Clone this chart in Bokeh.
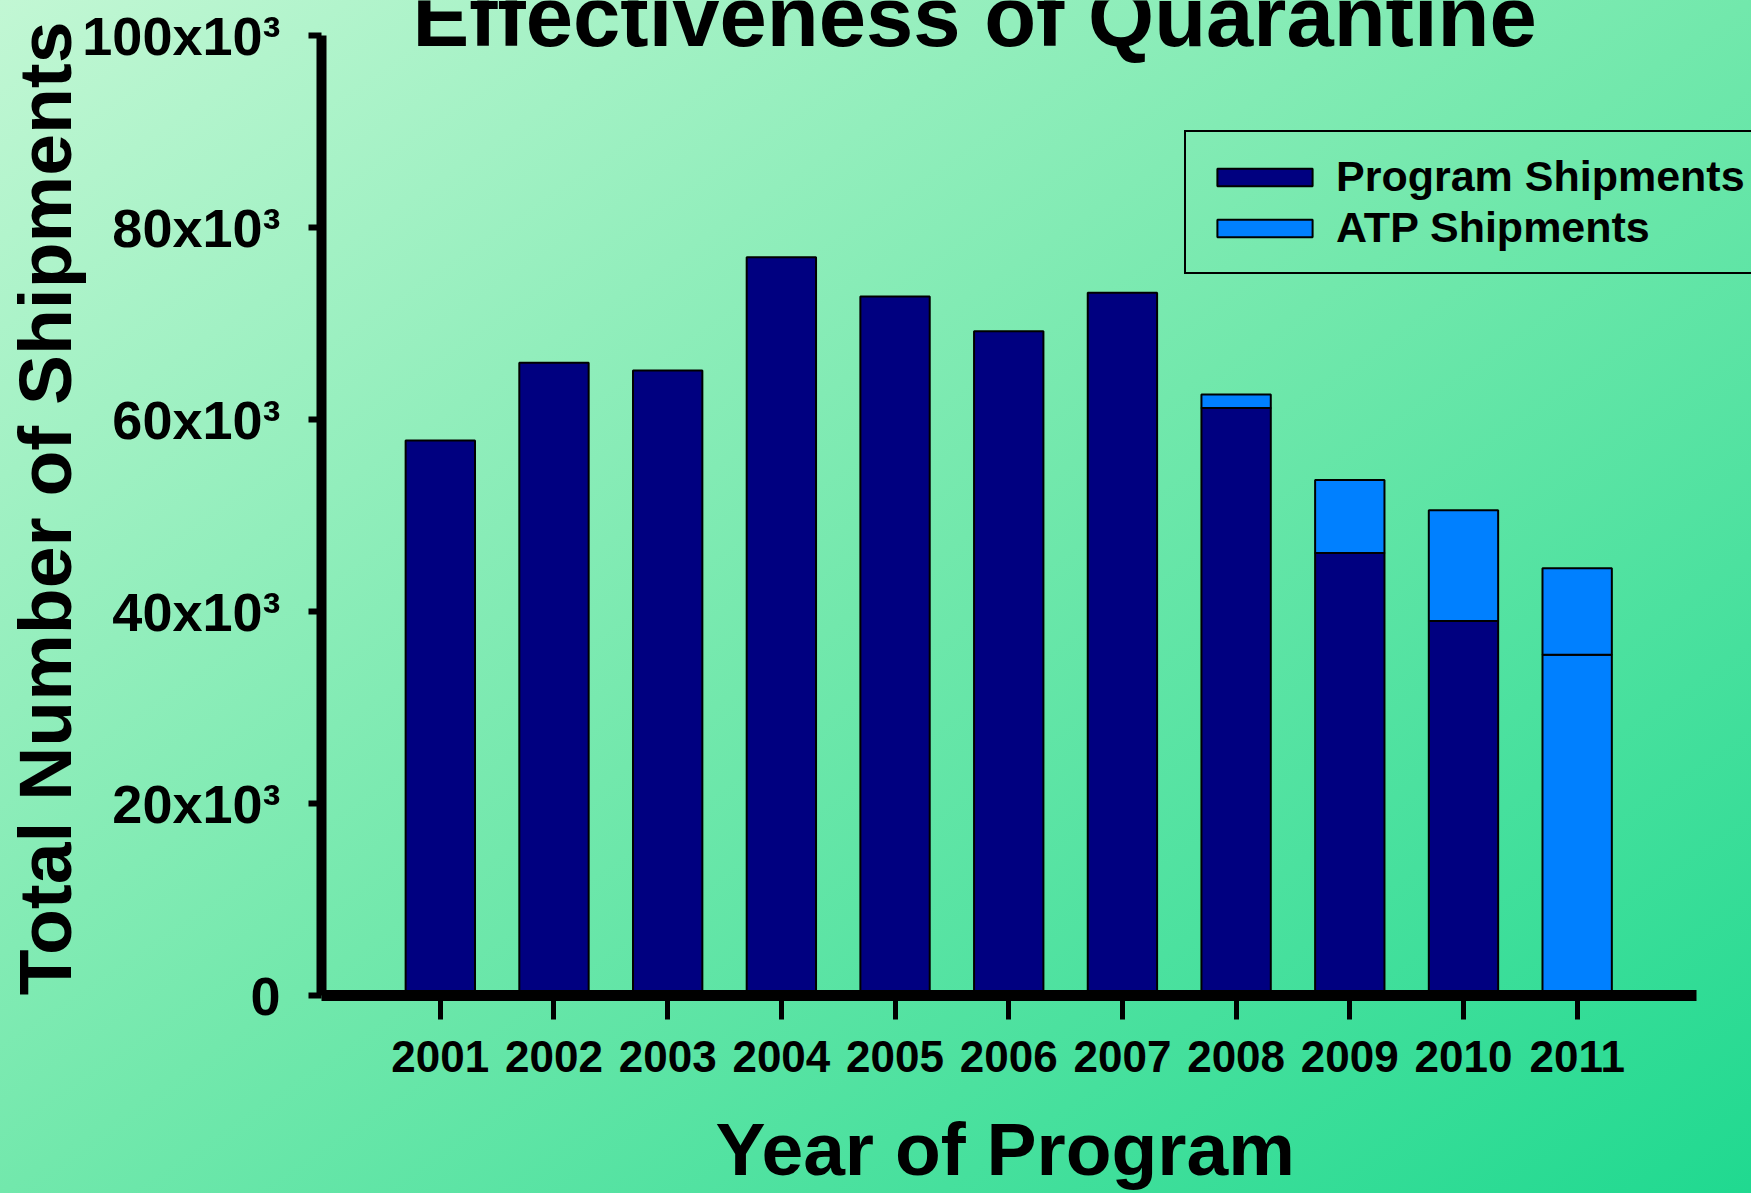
from bokeh.plotting import figure
from bokeh.models import (FixedTicker, Label, Legend, LegendItem,
                          ColumnDataSource, Range1d)
from bokeh.embed import file_html
from bokeh.resources import INLINE

# ---------------- data ----------------
years = [2001, 2002, 2003, 2004, 2005, 2006, 2007, 2008, 2009, 2010, 2011]
program = [57800, 65900, 65100, 76900, 72800, 69200, 73200, 61200, 46100, 39000, 35500]
atp = [0, 0, 0, 0, 0, 0, 0, 1400, 7600, 11550, 9000]
# years whose lower segment is drawn in the ATP colour in the original chart
lower_segment_as_atp = [2011]
y_ticks = [0, 20000, 40000, 60000, 80000, 100000]
y_tick_labels = ["0", "20x10³", "40x10³", "60x10³", "80x10³", "100x10³"]
x_tick_labels = ["2001", "2002", "2003", "2004", "2005", "2006", "2007",
                 "2008", "2009", "2010", "2011"]

NAVY = "#000080"
BLUE = "#0080ff"
FONT = "Liberation Sans"
NBSP = "\u00a0"

prog_colors = [BLUE if y in lower_segment_as_atp else NAVY for y in years]
src_prog = ColumnDataSource(dict(x=years, top=program, color=prog_colors))
atp_idx = [i for i, a in enumerate(atp) if a > 0]
src_atp = ColumnDataSource(dict(
    x=[years[i] for i in atp_idx],
    bottom=[program[i] for i in atp_idx],
    top=[program[i] + atp[i] for i in atp_idx]))

X0, X1 = 1999.955, 2012.05       # extent of the drawn x axis
Y0, Y1 = 0, 100000               # extent of the drawn y axis

p = figure(width=1751, height=1193, output_backend="svg", toolbar_location=None,
           x_range=Range1d(X0, X0 + (X1 - X0) * 1431 / 1376),
           y_range=Range1d(Y0, Y1 * 995 / 960),
           min_border_left=320, min_border_right=0, min_border_top=0,
           min_border_bottom=198)
p.styles = {"background": "linear-gradient(to bottom right, #c2f7d4 0%, #72e8ac 50%, #20d990 100%)"}
p.background_fill_alpha = 0
p.border_fill_alpha = 0
p.outline_line_color = None
p.grid.visible = False

r_prog = p.vbar(x="x", top="top", bottom=0, width=0.61, source=src_prog,
                fill_color="color", line_color="black", line_width=2)
r_atp = p.vbar(x="x", top="top", bottom="bottom", width=0.61, source=src_atp,
               fill_color=BLUE, line_color="black", line_width=2)

# axes
xa = p.xaxis[0]
xa.bounds = (X0, X1)
xa.ticker = FixedTicker(ticks=years)
xa.major_label_overrides = {y: l for y, l in zip(years, x_tick_labels)}
xa.axis_line_width = 11
xa.axis_line_color = "black"
xa.major_tick_in = 0
xa.major_tick_out = 24
xa.major_tick_line_width = 5
xa.minor_tick_line_color = None
xa.major_label_text_font = FONT
xa.major_label_text_font_style = "bold"
xa.major_label_text_font_size = "44px"
xa.major_label_text_color = "black"
xa.major_label_standoff = 21
# trailing no-break spaces re-centre the label under the drawn axis
xa.axis_label = "Year of Program" + NBSP * 3
xa.axis_label_text_font = FONT
xa.axis_label_text_font_style = "bold"
xa.axis_label_text_font_size = "75px"
xa.axis_label_text_color = "black"
xa.axis_label_standoff = 32

ya = p.yaxis[0]
ya.bounds = (Y0, Y1)
ya.ticker = FixedTicker(ticks=y_ticks)
ya.major_label_overrides = {t: l for t, l in zip(y_ticks, y_tick_labels)}
ya.axis_line_width = 10
ya.axis_line_color = "black"
ya.major_tick_in = 0
ya.major_tick_out = 13
ya.major_tick_line_width = 6
ya.minor_tick_line_color = None
ya.major_label_text_font = FONT
ya.major_label_text_font_style = "bold"
ya.major_label_text_font_size = "54px"
ya.major_label_text_color = "black"
ya.major_label_standoff = 28
ya.axis_label = "Total Number of Shipments" + NBSP
ya.axis_label_text_font = FONT
ya.axis_label_text_font_style = "bold"
ya.axis_label_text_font_size = "75px"
ya.axis_label_text_color = "black"
ya.axis_label_standoff = -8

title = Label(x=2005.70, y=101980, text="Effectiveness of Quarantine",
              text_font=FONT, text_font_style="bold", text_font_size="85px",
              text_align="center", text_baseline="alphabetic", text_color="black")
p.add_layout(title)

legend = Legend(items=[LegendItem(label="Program Shipments", renderers=[r_prog], index=0),
                       LegendItem(label="ATP Shipments", renderers=[r_atp], index=0)],
                location=(863, 721), orientation="vertical",
                label_text_font=FONT, label_text_font_style="bold",
                label_text_font_size="43px", label_text_color="black",
                glyph_width=119, glyph_height=22, label_height=51,
                label_standoff=12, spacing=0, padding=19, margin=0,
                border_line_color="black", border_line_width=2,
                border_line_alpha=1.0, background_fill_alpha=0)
p.add_layout(legend, "center")

open("out.html", "w").write(file_html(p, INLINE))
